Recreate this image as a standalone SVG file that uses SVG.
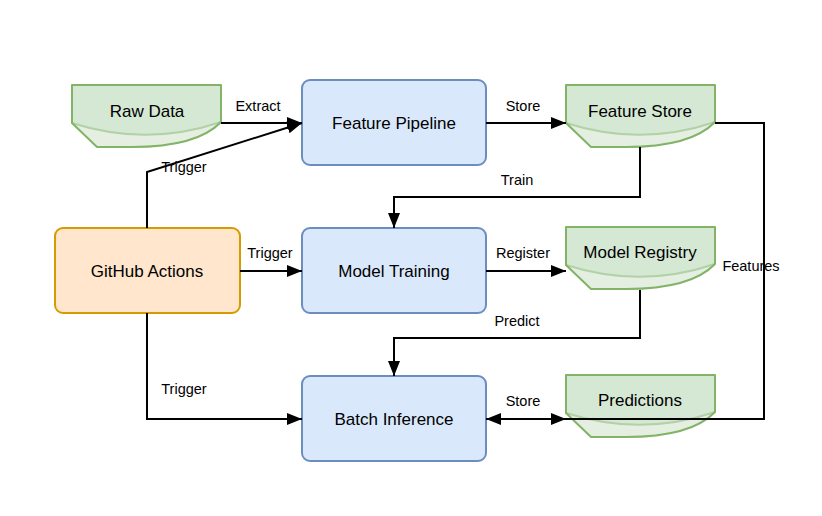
<svg xmlns="http://www.w3.org/2000/svg" width="822" height="516" viewBox="0 0 822 516">
<defs>
<style>
.blue{fill:#dae8fc;stroke:#6c8ebf;stroke-width:2}
.orange{fill:#ffe6cc;stroke:#d79b00;stroke-width:2}
.gbody{fill:#d5e8d4;stroke:none}
.glow{fill:#e4efe2;stroke:none}
.gin{fill:none;stroke:#b2d1a6;stroke-width:2}
.gout{fill:none;stroke:#82b366;stroke-width:2;stroke-linejoin:round}
.nt{font-family:"Liberation Sans",Arial,sans-serif;font-size:17px;fill:#000;text-anchor:middle;dominant-baseline:central}
.el{font-family:"Liberation Sans",Arial,sans-serif;font-size:14.5px;fill:#000;text-anchor:middle}
.ln{fill:none;stroke:#000;stroke-width:2}
</style>
<marker id="ah" markerUnits="userSpaceOnUse" markerWidth="16" markerHeight="14" refX="15" refY="6" orient="auto-start-reverse" viewBox="0 0 16 12">
<path d="M0,0 L15,6 L0,12 Z" fill="#000"/>
</marker>
<g id="store">
<path class="gbody" d="M0,0 H149 V37 Q125,62 60,62 H25 L0,38 Z"/>
<path class="glow" d="M0,38 Q75,62 149,37 Q125,62 60,62 H25 Z"/>
<path class="gin" d="M0,38 Q75,62 149,37"/>
<path class="gout" d="M0,0 H149 V37 Q125,62 60,62 H25 L0,38 Z"/>
</g>
</defs>
<g id="raw-data"><use href="#store" x="72" y="85"/><text class="nt" x="147" y="111">Raw Data</text></g>
<g id="feature-store"><use href="#store" x="566" y="85"/><text class="nt" x="640" y="111">Feature Store</text></g>
<g id="model-registry"><use href="#store" x="566" y="227"/><text class="nt" x="640" y="252">Model Registry</text></g>
<g id="predictions"><use href="#store" x="566" y="375"/><text class="nt" x="640" y="400">Predictions</text></g>
<g id="feature-pipeline"><rect class="blue" x="302" y="80" width="184" height="85" rx="8"/><text class="nt" x="394" y="123">Feature Pipeline</text></g>
<g id="model-training"><rect class="blue" x="302" y="228" width="184" height="85" rx="8"/><text class="nt" x="394" y="271">Model Training</text></g>
<g id="batch-inference"><rect class="blue" x="302" y="376" width="184" height="85" rx="8"/><text class="nt" x="394" y="419">Batch Inference</text></g>
<g id="github-actions"><rect class="orange" x="55" y="228" width="185" height="85" rx="8"/><text class="nt" x="147" y="271">GitHub Actions</text></g>
<g id="connectors">
<path class="ln" d="M221,123 H302" marker-end="url(#ah)"/>
<text class="el" x="258" y="111">Extract</text>
<path class="ln" d="M147,228 V172 L302,123" marker-end="url(#ah)"/>
<text class="el" x="184" y="172">Trigger</text>
<path class="ln" d="M240,271 H302" marker-end="url(#ah)"/>
<text class="el" x="270" y="258">Trigger</text>
<path class="ln" d="M147,313 V419 H302" marker-end="url(#ah)"/>
<text class="el" x="184" y="394">Trigger</text>
<path class="ln" d="M486,123 H566" marker-end="url(#ah)"/>
<text class="el" x="523" y="111">Store</text>
<path class="ln" d="M640,147 V197 H394 V228" marker-end="url(#ah)"/>
<text class="el" x="517" y="185">Train</text>
<path class="ln" d="M486,271 H566" marker-end="url(#ah)"/>
<text class="el" x="523" y="258">Register</text>
<path class="ln" d="M640,290 V338 H394 V376" marker-end="url(#ah)"/>
<text class="el" x="517" y="326">Predict</text>
<path class="ln" d="M486,419 H566" marker-start="url(#ah)" marker-end="url(#ah)"/>
<text class="el" x="523" y="406">Store</text>
<path class="ln" d="M715,123 H764 V419 H566"/>
<text class="el" x="751" y="271">Features</text>
</g>
</svg>
